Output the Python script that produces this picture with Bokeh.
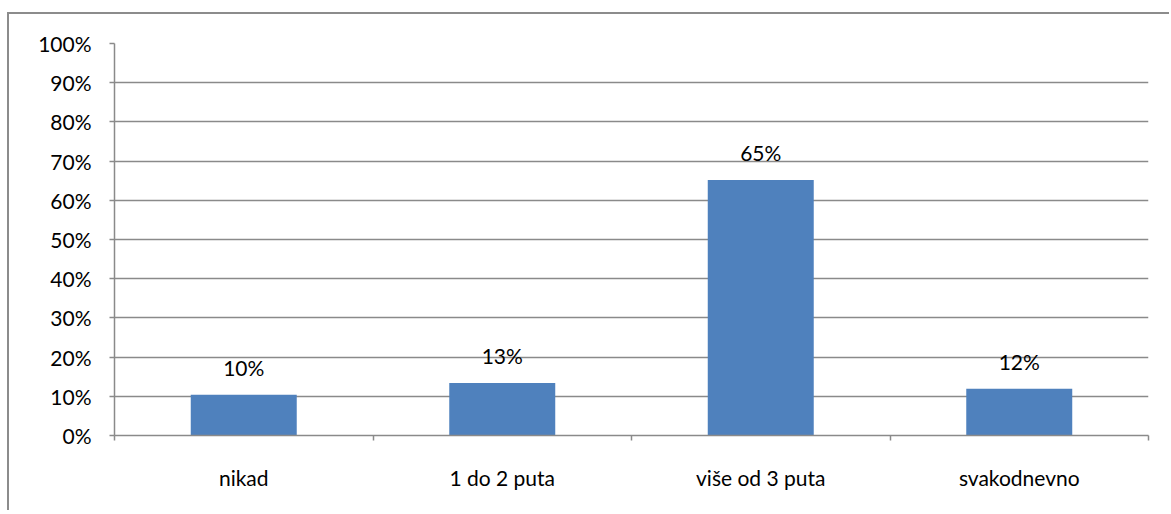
from bokeh.plotting import figure
from bokeh.models import FixedTicker, ColumnDataSource, Range1d
from bokeh.core.properties import value
from bokeh.embed import file_html
from bokeh.resources import INLINE

categories = ["nikad", "1 do 2 puta", "više od 3 puta", "svakodnevno"]
values = [10.4, 13.4, 65.2, 11.9]
labels = [f"{round(v)}%" for v in values]
y_ticks = list(range(0, 101, 10))
y_tick_labels = [f"{t}%" for t in y_ticks]

FONT = "Lato"
FS = "21px"
GRID = "#8a8a8a"
BAR = "#4F81BD"

xs = [i + 0.5 for i in range(len(categories))]
src = ColumnDataSource(dict(x=xs, top=values, lab=labels))

p = figure(width=1162, height=498, output_backend="svg", toolbar_location=None,
           x_range=Range1d(0, len(categories)), y_range=Range1d(0, 100),
           min_border_left=105, min_border_right=23, min_border_top=29, min_border_bottom=77)
p.styles = {"border-left": "2px solid #8c8c8c", "border-top": "2px solid #8c8c8c",
            "margin-top": "12px", "margin-left": "7px"}
p.outline_line_color = None
p.background_fill_color = "white"
p.border_fill_color = "white"

p.vbar(x="x", top="top", bottom=0, width=0.41, source=src, fill_color=BAR, line_color=None)
p.text(x="x", y="top", text="lab", source=src, text_align="center", text_baseline="alphabetic",
       y_offset=-27, text_font=value(FONT), text_font_size=FS, text_color="#000000")

# y axis
p.yaxis.ticker = FixedTicker(ticks=y_ticks, minor_ticks=[])
p.yaxis.major_label_overrides = {t: l for t, l in zip(y_ticks, y_tick_labels)}
p.yaxis.major_tick_in = 0
p.yaxis.major_tick_out = 5
p.yaxis.major_tick_line_color = GRID
p.yaxis.major_tick_line_width = 1.5
p.yaxis.axis_line_color = GRID
p.yaxis.axis_line_width = 1.5
p.yaxis.major_label_standoff = 18
p.yaxis.major_label_text_font = FONT
p.yaxis.major_label_text_font_size = FS
p.yaxis.major_label_text_color = "#000000"

# x axis
p.xaxis.ticker = FixedTicker(ticks=xs, minor_ticks=list(range(len(categories) + 1)))
p.xaxis.major_label_overrides = {x: c for x, c in zip(xs, categories)}
p.xaxis.major_tick_in = 0
p.xaxis.major_tick_out = 0
p.xaxis.minor_tick_in = 0
p.xaxis.minor_tick_out = 5
p.xaxis.minor_tick_line_color = GRID
p.xaxis.minor_tick_line_width = 1.5
p.xaxis.axis_line_color = GRID
p.xaxis.axis_line_width = 1.5
p.xaxis.major_label_standoff = 24
p.xaxis.major_label_text_font = FONT
p.xaxis.major_label_text_font_size = FS
p.xaxis.major_label_text_color = "#000000"

p.xgrid.grid_line_color = None
p.ygrid.ticker = FixedTicker(ticks=y_ticks)
p.ygrid.grid_line_color = GRID
p.ygrid.grid_line_width = 1.5

open("out.html", "w").write(file_html(p, INLINE))
